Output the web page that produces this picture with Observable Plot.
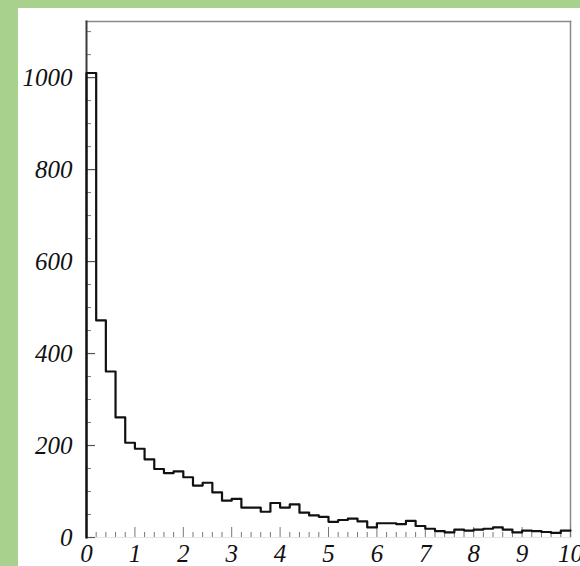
<!DOCTYPE html>
<html>
<head>
<meta charset="utf-8">
<script src="https://cdn.jsdelivr.net/npm/d3@7"></script>
<script src="https://cdn.jsdelivr.net/npm/@observablehq/plot@0.6"></script>
<style>
  html, body { margin: 0; padding: 0; background: #a9d18e; width: 580px; height: 566px; overflow: hidden; }
  #panel { position: absolute; left: 18px; top: 8px; width: 562px; height: 558px; background: #ffffff; overflow: hidden; }
  svg { overflow: visible; }
  svg text { font-style: italic; }
</style>
</head>
<body>
<div id="panel"></div>
<script>
// Histogram: 50 bins of width 0.2 from 0 to 10
const binWidth = 0.2;
const counts = [
  1010, 472, 361, 261, 206, 193, 170, 149, 140, 144,
  131, 113, 119, 98, 80, 84, 65, 65, 56, 75,
  65, 72, 54, 48, 45, 34, 38, 41, 35, 22,
  31, 31, 29, 36, 25, 19, 14, 11, 17, 15,
  17, 19, 22, 17, 11, 15, 14, 12, 10, 15
];
const xDomain = [0, 10];
const yDomain = [0, 1122];
const xMajorTicks = [0, 1, 2, 3, 4, 5, 6, 7, 8, 9, 10];
const xMinorTicks = d3.range(0, 50).map(i => i * binWidth).filter(v => Math.abs(v - Math.round(v)) > 1e-6);
const yMajorTicks = [0, 200, 400, 600, 800, 1000];
const yMinorTicks = [50, 100, 150, 250, 300, 350, 450, 500, 550, 650, 700, 750, 850, 900, 950, 1050, 1100];

const steps = [{x: 0, y: 0}]
  .concat(counts.map((c, i) => ({x: i * binWidth, y: c})))
  .concat([{x: counts.length * binWidth, y: counts[counts.length - 1]}]);

const font = "'Liberation Serif', 'DejaVu Serif', serif";

const chart = Plot.plot({
  width: 562,
  height: 558,
  marginLeft: 68,
  marginRight: 10,
  marginTop: 13,
  marginBottom: 29,
  style: {fontFamily: font, background: "transparent", overflow: "visible"},
  x: {domain: xDomain, label: null},
  y: {domain: yDomain, label: null},
  marks: [
    Plot.frame({anchor: "top", stroke: "#8a8a8a", strokeWidth: 1.5}),
    Plot.frame({anchor: "right", stroke: "#8a8a8a", strokeWidth: 1.5}),
    Plot.frame({anchor: "bottom", stroke: "#e4e4e4", strokeWidth: 1}),
    // y axis ticks (inward)
    Plot.axisY({ticks: yMinorTicks, tickSize: -5, tickFormat: () => "", stroke: "#777", strokeWidth: 1, label: null}),
    Plot.axisY({ticks: yMajorTicks, tickSize: -9, tickFormat: () => "", stroke: "#555", strokeWidth: 1.2, label: null}),
    Plot.axisY({ticks: yMajorTicks, tickSize: 0, tickPadding: 14, tickFormat: d => String(d), fontSize: 25, fill: "#111", label: null}),
    // x axis ticks (inward)
    Plot.axisX({ticks: xMinorTicks, tickSize: -5, tickFormat: () => "", stroke: "#777", strokeWidth: 1, label: null}),
    Plot.axisX({ticks: xMajorTicks, tickSize: -10, tickFormat: () => "", stroke: "#777", strokeWidth: 1, label: null}),
    Plot.axisX({ticks: xMajorTicks, tickSize: 0, tickPadding: 7, tickFormat: d => String(d), fontSize: 25, fill: "#111", label: null}),
    Plot.frame({anchor: "left", stroke: "#3a3a3a", strokeWidth: 2}),
    // histogram outline
    Plot.line(steps, {x: "x", y: "y", curve: "step-after", stroke: "#111", strokeWidth: 2.2})
  ]
});
document.getElementById("panel").appendChild(chart);
</script>
</body>
</html>
